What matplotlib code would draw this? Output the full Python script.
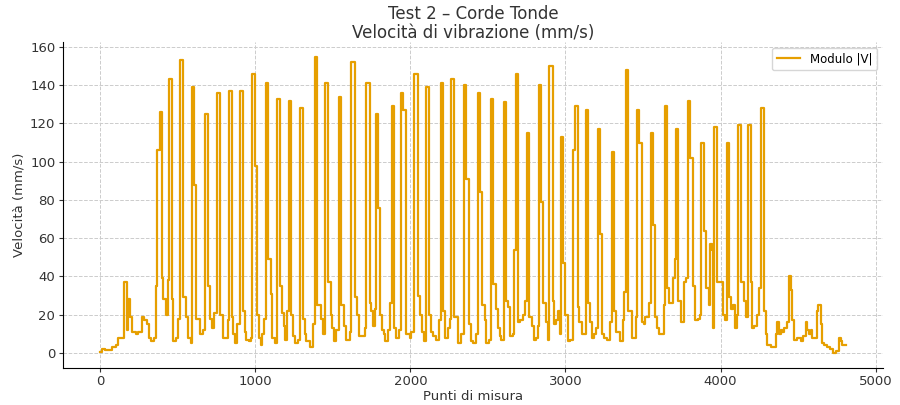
import matplotlib
matplotlib.use("Agg")
import matplotlib.pyplot as plt

# Step breakpoints (measurement point index) and |V| held from each breakpoint (mm/s)
punti = [
    0, 14, 31, 78, 100, 117, 155, 170, 181, 194, 207, 228, 246, 267, 284, 299, 314, 327, 344,
    357, 368, 385, 396, 407, 422, 435, 443, 460, 471, 486, 503, 514, 535, 551, 568, 585, 589,
    606, 617, 643, 664, 675, 692, 707, 718, 731, 750, 772, 793,
    821, 830, 847, 857, 868, 885, 900, 922, 933, 943, 958, 971, 980, 997, 1012, 1023, 1036,
    1044, 1057, 1066, 1083, 1098, 1109, 1126, 1137, 1143, 1158, 1169, 1184, 1194, 1207, 1216,
    1233, 1244, 1255, 1272, 1287, 1308, 1319, 1330, 1351, 1373, 1383, 1396, 1422, 1437, 1448,
    1469, 1486, 1495, 1508, 1523, 1538, 1555, 1572, 1587, 1609, 1620, 1645,
    1658, 1671, 1705, 1716, 1738, 1748, 1759, 1770, 1780, 1791, 1806, 1817, 1830, 1838, 1856,
    1871, 1881, 1894, 1909, 1924, 1942, 1954, 1969, 1995, 2006, 2023, 2049, 2060, 2075, 2087,
    2102, 2118, 2135, 2145, 2167, 2182, 2195, 2210, 2221, 2242, 2255, 2264, 2281, 2307, 2328,
    2343, 2360, 2375, 2388, 2403, 2425, 2435, 2450, 2463, 2478,
    2489, 2510, 2521, 2536, 2553, 2564, 2575, 2585, 2603, 2618, 2628, 2643, 2661, 2667, 2682,
    2693, 2708, 2725, 2736, 2751, 2768, 2783, 2796, 2811, 2822, 2828, 2843, 2858, 2875, 2886,
    2897, 2918, 2929, 2940, 2955, 2963, 2972, 2985, 2998, 3015, 3032, 3047, 3062, 3079, 3090,
    3105, 3133, 3148, 3161, 3169, 3182, 3197, 3208, 3223, 3234, 3251, 3268, 3285, 3298, 3315,
    3326, 3354, 3369, 3380, 3390, 3405, 3427, 3457, 3463, 3476, 3491, 3504, 3515, 3541, 3552,
    3567, 3579, 3590, 3603, 3633, 3642, 3655, 3665, 3691, 3706, 3713, 3728, 3745, 3766, 3777,
    3788, 3805, 3820, 3835, 3852, 3865, 3874, 3891, 3906, 3923, 3934, 3944, 3951, 3959, 3977,
    4013, 4028, 4041, 4056, 4067, 4082, 4093, 4105, 4114, 4131, 4153,
    4163, 4178, 4195, 4206, 4217, 4234, 4249, 4260, 4281, 4292, 4303, 4324, 4356, 4367, 4378,
    4389, 4399, 4410, 4427, 4442, 4453, 4464, 4475, 4496, 4518, 4535, 4550, 4560, 4571, 4582,
    4593, 4621, 4629, 4646, 4657, 4668, 4689, 4706, 4728, 4743, 4764, 4775, 4786, 4807,
]
modulo = [
    0.5, 2, 1.5, 3, 4, 8, 37, 12, 28, 19, 11, 10, 11, 19, 17, 15, 8, 6, 8,
    35, 106, 126, 39, 28, 20, 38, 143, 28, 6, 8, 18, 153, 29, 19, 8, 5, 139,
    88, 18, 10, 12, 125, 35, 18, 13, 21, 136, 20, 8,
    17, 137, 19, 10, 5, 15, 137, 22, 11, 7, 6, 8, 146, 98, 20, 8, 4,
    10, 18, 141, 49, 31, 8, 5, 10, 133, 35, 21, 14, 7, 22, 132,
    20, 9, 5, 7, 128, 18, 10, 6, 3, 15, 155, 25, 18, 10, 141,
    37, 20, 13, 6, 12, 134, 25, 14, 7, 11, 152, 29,
    20, 9, 13, 141, 26, 22, 14, 23, 125, 76, 20, 12, 10, 6, 12,
    26, 129, 13, 8, 12, 136, 127, 10, 8, 11, 146, 30, 20, 11, 6,
    139, 20, 11, 9, 7, 17, 141, 22, 8, 13, 18, 143, 19, 5, 10,
    140, 91, 15, 6, 5, 10, 136, 84, 25, 17,
    5, 7, 133, 36, 23, 13, 9, 7, 131, 27, 24, 9, 10, 54, 146,
    16, 17, 20, 27, 115, 19, 14, 7, 8, 14, 140, 79, 26, 16, 7,
    150, 27, 15, 17, 22, 10, 113, 47, 20, 6, 7, 106, 129, 24, 16,
    10, 127, 26, 16, 8, 10, 13, 117, 62, 10, 8, 7, 16, 105, 22,
    11, 6, 17, 32, 148, 22, 8, 19, 127, 110, 16, 15, 19, 26, 115,
    67, 19, 13, 10, 25, 129, 34, 26, 39, 49, 117, 27, 16, 37, 39,
    132, 102, 35, 17, 18, 20, 110, 64, 34, 25, 57, 54, 13, 118, 37,
    20, 17, 110, 29, 23, 25, 13, 20, 119, 37, 27,
    19, 119, 37, 13, 14, 20, 34, 128, 22, 10, 4, 3, 10, 16, 10,
    12, 11, 13, 16, 40, 33, 17, 7, 8, 6, 9, 16, 12, 10, 12,
    8, 22, 25, 15, 5, 4, 3, 2, 0, 1, 8, 6, 4, 4,
]

fig = plt.figure(figsize=(9, 4.05), dpi=100)
ax = fig.add_axes([0.07, 0.092, 0.911, 0.805])

ax.plot(punti, modulo, drawstyle="steps-post", color="#E69F00", lw=1.6, label="Modulo |V|")

ax.set_title("Test 2 – Corde Tonde\nVelocità di vibrazione (mm/s)", fontsize=12, color="#333333",
             linespacing=1.05, pad=3)
ax.set_xlabel("Punti di misura", fontsize=9.5, color="#333333", labelpad=1)
ax.set_ylabel("Velocità (mm/s)", fontsize=9.5, color="#333333", labelpad=3)
ax.set_xticks([0, 1000, 2000, 3000, 4000, 5000])
ax.set_yticks([0, 20, 40, 60, 80, 100, 120, 140, 160])
ax.tick_params(labelsize=9.5, colors="#333333", length=3, pad=2.5)
ax.grid(True, linestyle="--", color="#cccccc", linewidth=0.7)
ax.set_axisbelow(True)
for side in ("top", "right"):
    ax.spines[side].set_visible(False)
ax.legend(loc="upper right", fontsize=8.5, frameon=True)

fig.savefig("out.png", dpi=100)
